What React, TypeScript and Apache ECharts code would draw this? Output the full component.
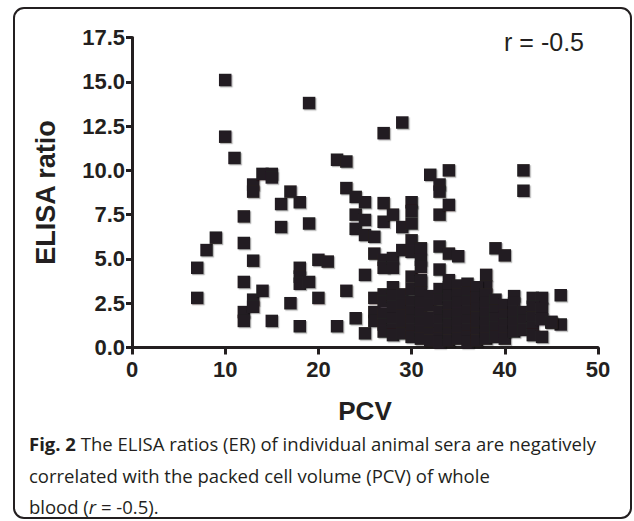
import React, { useEffect, useRef } from "react";
import * as echarts from "echarts";

const xTicksMin = 0;
const xTicksMax = 50;
const xTickStep = 10;
const yTicksMin = 0;
const yTicksMax = 17.5;
const yTickStep = 2.5;

const xAxisTitle = "PCV";
const yAxisTitle = "ELISA ratio";
const corrLabel = "r = -0.5";

// Sparse points (PCV, ELISA ratio)
const pcvSparse = [
  7, 7, 8, 9, 10, 10, 11, 12, 12, 12, 12, 12, 13, 13, 13, 13, 13, 14, 14, 15, 15, 15, 16, 16, 17, 17,
  18, 18, 18, 18, 18, 19, 19, 19, 20, 20, 21, 22, 22, 23, 23, 23, 24, 24, 24, 24, 25, 25, 25, 25, 25,
  26, 26, 26, 26, 26, 27, 27, 27, 27, 27, 28, 28, 28, 29, 29, 29, 30, 30, 30, 30, 30, 30,
  31, 31, 31, 31, 32, 33, 33, 33, 33, 33, 34, 34, 34, 34, 35, 38, 38, 39, 40, 42, 42, 41, 43, 44, 46, 46, 45,
];
const erSparse = [
  4.5, 2.8, 5.5, 6.2, 15.1, 11.9, 10.7, 7.4, 5.9, 3.7, 2.0, 1.5, 9.2, 8.8, 4.9, 2.7, 2.3, 9.8, 3.2, 9.8, 9.6, 1.5, 8.1, 6.8, 8.8, 2.5,
  8.2, 4.5, 4.0, 3.6, 1.2, 13.8, 7.0, 3.7, 4.95, 2.8, 4.85, 10.6, 1.2, 10.5, 9.0, 3.2, 8.5, 7.5, 6.7, 1.65, 8.2, 7.2, 6.35, 4.1, 0.8,
  6.25, 5.3, 2.8, 2.0, 1.5, 12.1, 8.15, 7.1, 4.95, 4.5, 7.5, 5.05, 4.5, 12.7, 6.8, 5.5, 8.2, 7.7, 7.0, 6.05, 5.4, 4.0,
  5.6, 4.95, 4.55, 3.8, 9.75, 9.2, 8.8, 7.5, 5.7, 4.4, 10.0, 8.05, 5.3, 3.8, 5.15, 4.1, 3.45, 5.6, 5.2, 10.0, 8.85, 2.9, 2.8, 2.8, 2.95, 1.3, 1.45,
];

// Dense cluster (PCV, ELISA ratio)
const pcvCluster = [
  27, 27, 27, 27, 27,
  28, 28, 28, 28, 28, 28,
  29, 29, 29, 29, 29,
  30, 30, 30, 30, 30, 30,
  31, 31, 31, 31, 31, 31, 31,
  32, 32, 32, 32, 32, 32,
  33, 33, 33, 33, 33, 33, 33,
  34, 34, 34, 34, 34, 34, 34,
  35, 35, 35, 35, 35, 35, 35,
  36, 36, 36, 36, 36, 36, 36, 36,
  37, 37, 37, 37, 37, 37, 37,
  38, 38, 38, 38, 38, 38,
  39, 39, 39, 39, 39,
  40, 40, 40, 40, 40,
  41, 41, 41, 41,
  42, 42, 42,
  43, 43, 43, 43,
  44, 44, 44,
  45,
];
const erCluster = [
  3.0, 2.6, 1.9, 1.3, 0.9,
  3.4, 2.9, 2.3, 1.6, 1.0, 0.7,
  3.0, 2.4, 1.8, 1.2, 0.8,
  3.3, 2.6, 2.0, 1.5, 1.0, 0.6,
  3.7, 3.1, 2.5, 1.9, 1.4, 0.9, 0.5,
  2.9, 2.4, 1.7, 1.2, 0.8, 0.4,
  3.3, 2.7, 2.0, 1.5, 1.0, 0.5, 0.3,
  3.4, 2.9, 2.3, 1.8, 1.3, 0.8, 0.4,
  3.5, 3.0, 2.5, 1.9, 1.4, 0.9, 0.5,
  3.6, 3.1, 2.6, 2.0, 1.5, 1.0, 0.6, 0.3,
  3.4, 2.8, 2.2, 1.7, 1.2, 0.8, 0.4,
  3.0, 2.5, 1.9, 1.4, 0.9, 0.5,
  2.7, 2.1, 1.6, 1.1, 0.6,
  2.4, 1.8, 1.3, 0.9, 0.5,
  2.5, 2.0, 1.4, 0.9,
  2.0, 1.5, 1.0,
  2.3, 1.7, 1.1, 0.7,
  2.2, 1.6, 0.6,
  1.4,
];

const captionLine1Bold = "Fig. 2";
const captionLine1 = " The ELISA ratios (ER) of individual animal sera are negatively";
const captionLine2 = "correlated with the packed cell volume (PCV) of whole";
const captionLine3a = "blood (";
const captionLine3i = "r";
const captionLine3b = " = -0.5).";

const INK = "#231f20";
const CAP_FONT = 18.5;

export default function App() {
  const ref = useRef<HTMLDivElement>(null);
  useEffect(() => {
    if (!ref.current) return;
    const chart = echarts.init(ref.current, null, { renderer: "svg" });
    const points: number[][] = [];
    pcvSparse.forEach((p, i) => points.push([p, erSparse[i]]));
    pcvCluster.forEach((p, i) => points.push([p, erCluster[i]]));

    chart.setOption({
      animation: false,
      backgroundColor: "#ffffff",
      grid: { left: 132, top: 37.5, width: 466, height: 310 },
      xAxis: {
        type: "value",
        min: xTicksMin,
        max: xTicksMax,
        interval: xTickStep,
        name: xAxisTitle,
        nameLocation: "middle",
        nameGap: 50,
        nameTextStyle: { fontFamily: "Liberation Sans", fontWeight: "bold", fontSize: 26, color: INK },
        axisLine: { show: true, onZero: false, lineStyle: { color: INK, width: 3 } },
        axisTick: { show: true, length: 7, lineStyle: { color: INK, width: 3 } },
        axisLabel: { fontFamily: "Liberation Sans", fontWeight: "bold", fontSize: 22, color: INK, margin: 11 },
        splitLine: { show: false },
      },
      yAxis: {
        type: "value",
        min: yTicksMin,
        max: yTicksMax,
        interval: yTickStep,
        name: yAxisTitle,
        nameLocation: "middle",
        nameGap: 73,
        nameRotate: 90,
        nameTextStyle: { fontFamily: "Liberation Sans", fontWeight: "bold", fontSize: 27, color: INK },
        axisLine: { show: true, onZero: false, lineStyle: { color: INK, width: 3 } },
        axisTick: { show: true, length: 6, lineStyle: { color: INK, width: 3 } },
        axisLabel: {
          fontFamily: "Liberation Sans",
          fontWeight: "bold",
          fontSize: 22,
          color: INK,
          margin: 7,
          formatter: (v: number) => v.toFixed(1),
        },
        splitLine: { show: false },
      },
      series: [
        {
          type: "scatter",
          symbol: "rect",
          symbolSize: 12.5,
          data: points,
          itemStyle: {
            color: INK,
            opacity: 1,
            shadowColor: "rgba(0,0,0,0.3)",
            shadowBlur: 1,
            shadowOffsetX: 1.2,
            shadowOffsetY: 1.2,
          },
          emphasis: { disabled: true },
        },
      ],
      graphic: [
        {
          type: "rect",
          shape: { x: 14, y: 8, width: 617, height: 510, r: 10 },
          style: { fill: "none", stroke: INK, lineWidth: 2 },
          silent: true,
        },
        {
          type: "text",
          x: 584,
          y: 42,
          style: {
            text: corrLabel,
            fontFamily: "Liberation Sans",
            fontSize: 25,
            fill: INK,
            align: "right",
            verticalAlign: "middle",
          },
        },
        {
          type: "text",
          x: 29,
          y: 443,
          style: {
            text: "{b|" + captionLine1Bold + "}{n|" + captionLine1 + "}",
            verticalAlign: "middle",
            rich: {
              b: { fontFamily: "Open Sans", fontWeight: "bold", fontSize: CAP_FONT, fill: INK },
              n: { fontFamily: "Open Sans", fontSize: CAP_FONT, fill: INK },
            },
          },
        },
        {
          type: "text",
          x: 29,
          y: 475,
          style: {
            text: captionLine2,
            fontFamily: "Open Sans",
            fontSize: CAP_FONT,
            fill: INK,
            verticalAlign: "middle",
          },
        },
        {
          type: "text",
          x: 29,
          y: 506,
          style: {
            text: "{n|" + captionLine3a + "}{i|" + captionLine3i + "}{n|" + captionLine3b + "}",
            verticalAlign: "middle",
            rich: {
              n: { fontFamily: "Open Sans", fontSize: CAP_FONT, fill: INK },
              i: { fontFamily: "Open Sans", fontStyle: "italic", fontSize: CAP_FONT, fill: INK },
            },
          },
        },
      ],
    });
    return () => chart.dispose();
  }, []);
  return (
    <div
      ref={ref}
      style={{ position: "absolute", left: 0, top: 0, width: 634, height: 521, background: "#fff" }}
    />
  );
}
